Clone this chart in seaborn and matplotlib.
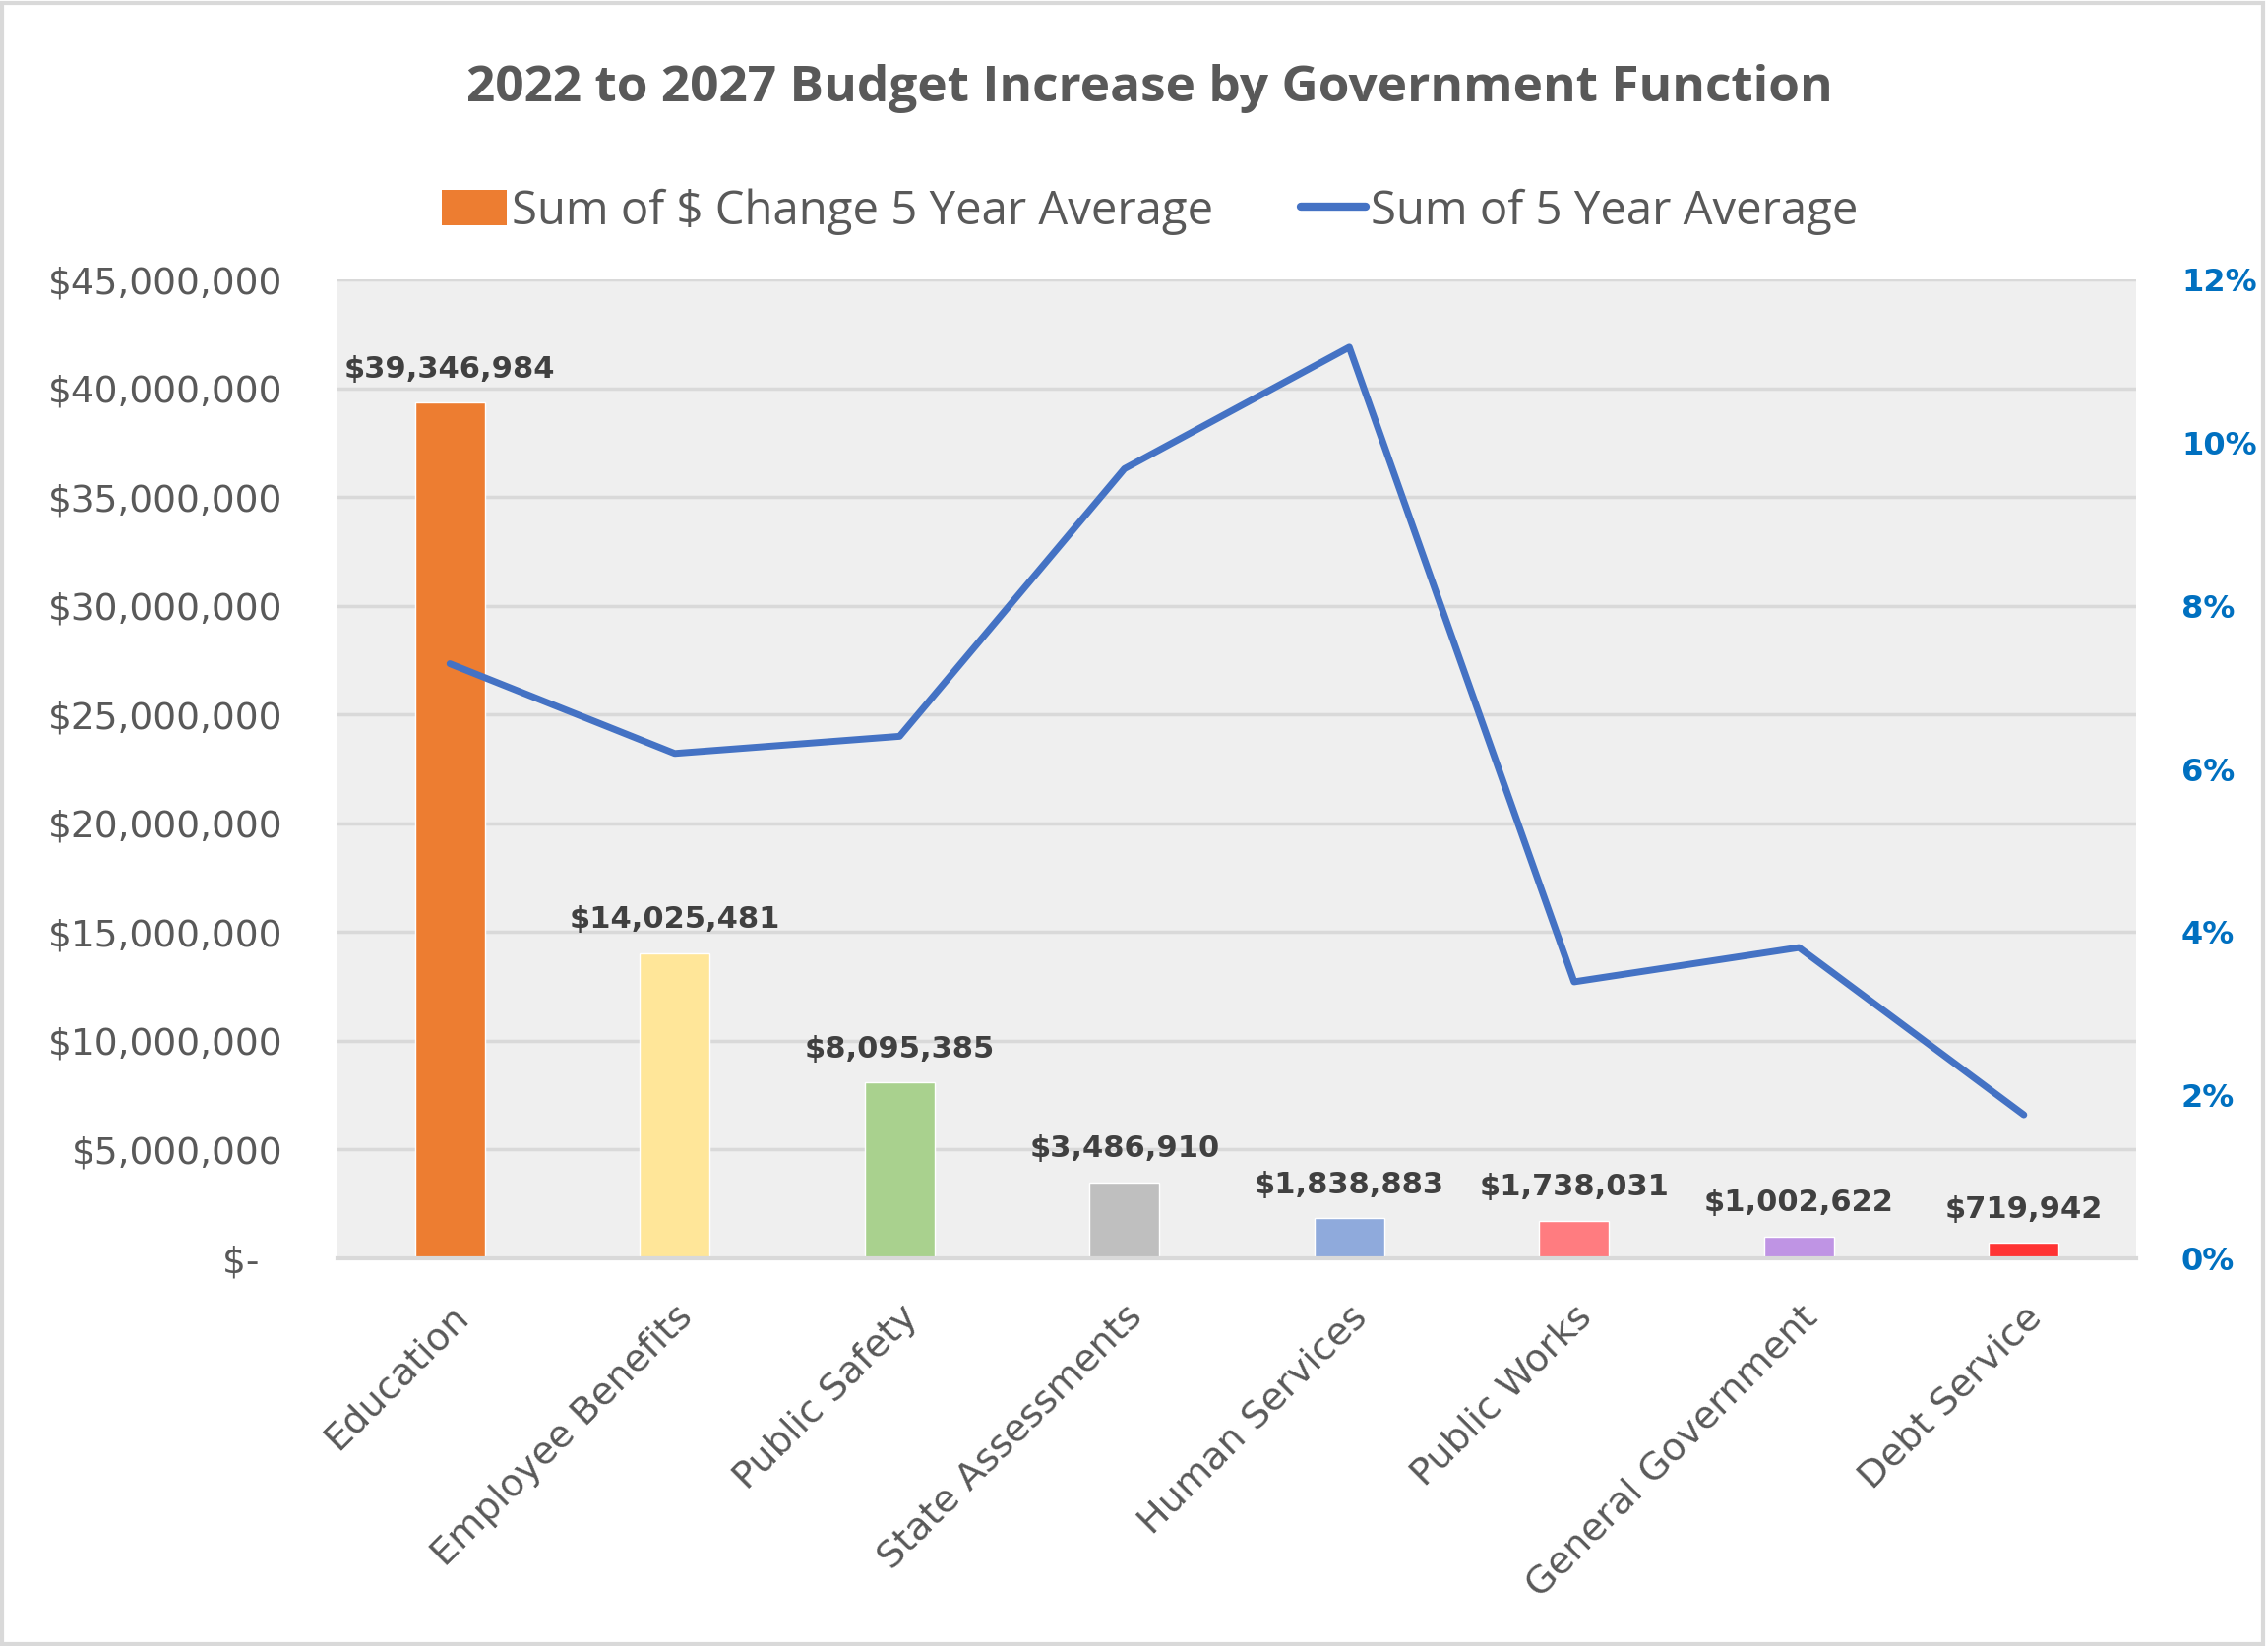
import numpy as np
import pandas as pd
import matplotlib
matplotlib.use("Agg")
import matplotlib.pyplot as plt
import seaborn as sns
from matplotlib.patches import Patch, Rectangle
from matplotlib.lines import Line2D
from matplotlib.ticker import FuncFormatter, MultipleLocator

categories = ["Education", "Employee Benefits", "Public Safety", "State Assessments",
              "Human Services", "Public Works", "General Government", "Debt Service"]
dollar_change = [39346984, 14025481, 8095385, 3486910, 1838883, 1738031, 1002622, 719942]
pct_avg = [7.29, 6.19, 6.40, 9.68, 11.17, 3.39, 3.81, 1.76]
bar_colors = ["#ED7D31", "#FFE699", "#A9D18E", "#BFBFBF", "#8FAADC", "#FF7C80", "#BF94E4", "#FF3333"]
line_color = "#4472C4"
title = "2022 to 2027 Budget Increase by Government Function"
bar_series = "Sum of \\$ Change 5 Year Average"
line_series = "Sum of 5 Year Average"

sns.set_theme(style="white")
plt.rcParams["font.family"] = ["DejaVu Sans"]

df = pd.DataFrame({"cat": categories, "val": dollar_change})

fig = plt.figure(figsize=(23.05, 16.73), dpi=100)
ax = fig.add_axes([0.1488, 0.2355, 0.7931, 0.5947])
ax.set_facecolor("#EFEFEF")

sns.barplot(data=df, x="cat", y="val", hue="cat", palette=bar_colors, order=categories,
            hue_order=categories, width=0.31, legend=False, ax=ax, saturation=1)

ax.set_ylim(0, 45000000)
ax.set_xlim(-0.5, len(categories) - 0.5)
ax.yaxis.set_major_locator(MultipleLocator(5000000))
ax.yaxis.set_major_formatter(FuncFormatter(lambda v, p: "\\$-  " if v == 0 else "\\$" + f"{int(v):,}"))
ax.grid(axis="y", color="#D9D9D9", linewidth=2.5)
ax.set_axisbelow(True)
for s in ["top", "left", "right"]:
    ax.spines[s].set_visible(False)
ax.spines["bottom"].set_color("#D9D9D9")
ax.spines["bottom"].set_linewidth(3)
ax.set_xlabel("")
ax.set_ylabel("")
ax.tick_params(axis="y", labelsize=27, labelcolor="#595959", length=0, pad=40)
ax.tick_params(axis="x", length=0, pad=30)
ax.set_xticks(range(len(categories)))
ax.set_xticklabels(categories, rotation=45, ha="right", va="top", rotation_mode="anchor",
                   fontsize=27.5, color="#595959")

for i, v in enumerate(dollar_change):
    ax.annotate("\\$" + f"{v:,}", (i, v), xytext=(0, 14), textcoords="offset points",
                ha="center", va="bottom", fontsize=22, fontweight="bold", color="#404040")

ax2 = ax.twinx()
sns.lineplot(x=np.arange(len(categories)), y=pct_avg, ax=ax2, color=line_color, linewidth=5)
ax2.set_ylim(0, 12)
ax2.yaxis.set_major_locator(MultipleLocator(2))
ax2.yaxis.set_major_formatter(FuncFormatter(lambda v, p: f"{int(round(v))}%"))
ax2.tick_params(axis="y", labelsize=23, labelcolor="#0070C0", length=0, pad=33)
for t in ax2.get_yticklabels():
    t.set_fontweight("bold")
for s in ["top", "left", "right", "bottom"]:
    ax2.spines[s].set_visible(False)
ax2.grid(False)
ax2.set_ylabel("")

fig.text(0.507, 0.946, title, ha="center", va="center", fontsize=37, fontweight="bold",
         color="#595959", family=["Open Sans", "DejaVu Sans"])

handles = [Patch(facecolor=bar_colors[0], edgecolor="none"),
           Line2D([0], [0], color=line_color, linewidth=6)]
fig.legend(handles, [bar_series, line_series], loc="center", bbox_to_anchor=(0.507, 0.8715),
           ncol=2, frameon=False, labelcolor="#595959", handlelength=1.4,
           handleheight=0.8, handletextpad=0.1, columnspacing=1.9,
           prop={"family": ["Open Sans", "DejaVu Sans"], "size": 34})

fig.patches.append(Rectangle((0.001, 0.001), 0.997, 0.997, transform=fig.transFigure,
                             fill=False, edgecolor="#D9D9D9", linewidth=3))

fig.savefig("out.png", dpi=100, facecolor="white")
